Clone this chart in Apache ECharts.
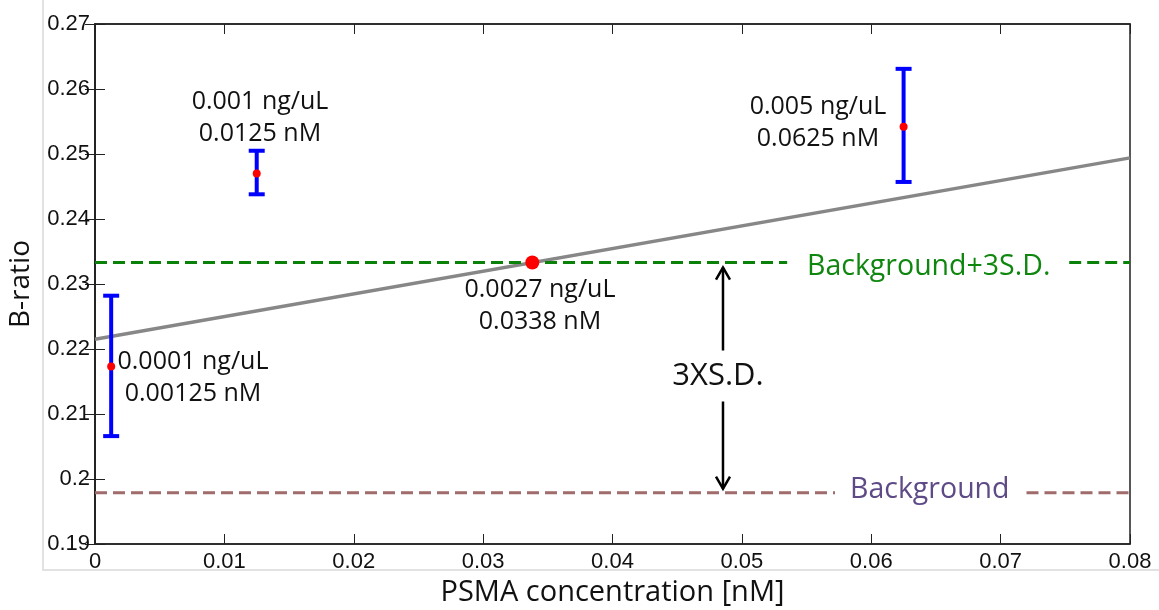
<!DOCTYPE html>
<html>
<head>
<meta charset="utf-8">
<script src="https://cdn.jsdelivr.net/npm/echarts@6/dist/echarts.min.js"></script>
<style>
  html, body { margin: 0; padding: 0; background: #fff; }
  #main { width: 1159px; height: 610px; }
</style>
</head>
<body>
<div id="main"></div>
<script>
// 测量点 (浓度 nM, B-ratio 均值及误差范围)
const conc = [0.00125, 0.0125, 0.0625];
const ratioMean = [0.2173, 0.2470, 0.2542];
const ratioLow = [0.2066, 0.2438, 0.2457];
const ratioHigh = [0.2282, 0.2505, 0.2631];

// 拟合直线
const fitX = [0, 0.08];
const fitY = [0.2215, 0.2494];

// 检测限
const lodX = [0.0338];
const lodY = [0.2333];

// 背景水平
const bgLevel = 0.1979;
const bgSdLevel = 0.2333;
const arrowX = 0.04854;

// 注释文字
const noteLines = [
  ['0.0001 ng/uL', '0.00125 nM'],
  ['0.001 ng/uL', '0.0125 nM'],
  ['0.005 ng/uL', '0.0625 nM'],
  ['0.0027 ng/uL', '0.0338 nM']
];

const chart = echarts.init(document.getElementById('main'));

const tickFont = { fontFamily: 'Liberation Sans, Arial, sans-serif', fontSize: 22, color: '#111' };
const noteFont = 'Open Sans, sans-serif';

function hline(y, x0, x1, color) {
  return {
    type: 'line',
    data: [[x0, y], [x1, y]],
    showSymbol: false,
    silent: true,
    lineStyle: { color: color, width: 3, type: [12, 6] },
    z: 2
  };
}

// 文字注释（像素位置）
const notePos = [[193, 362], [260, 102], [818, 107], [540, 290]];
const graphics = [
  {
    type: 'rect', silent: true, z: -1,
    shape: { x: 43, y: -5, width: 1200, height: 575 },
    style: { fill: 'none', stroke: '#d9d9d9', lineWidth: 1.5 }
  }
];
noteLines.forEach((lines, i) => {
  lines.forEach((t, j) => {
    graphics.push({
      type: 'text', z: 10,
      x: notePos[i][0], y: notePos[i][1] + j * 32,
      style: {
        text: t, fill: '#111', font: '25px ' + noteFont,
        textAlign: 'center', textVerticalAlign: 'middle'
      }
    });
  });
});
graphics.push({
  type: 'text', z: 20, x: 718, y: 376,
  style: {
    text: '3XS.D.', fill: '#111', font: '31px ' + noteFont,
    textAlign: 'center', textVerticalAlign: 'middle',
    backgroundColor: '#fff', padding: [10, 4, 10, 4]
  }
});
graphics.push({
  type: 'text', z: 10, x: 807, y: 267,
  style: {
    text: 'Background+3S.D.', fill: '#0f870f', font: '28.5px ' + noteFont,
    textAlign: 'left', textVerticalAlign: 'middle'
  }
});
graphics.push({
  type: 'text', z: 10, x: 850, y: 490,
  style: {
    text: 'Background', fill: '#5e4a86', font: '28.5px ' + noteFont,
    textAlign: 'left', textVerticalAlign: 'middle'
  }
});

const option = {
  backgroundColor: '#fff',
  animation: false,
  grid: {
    left: 95, right: 29, top: 24, bottom: 66,
    outerBoundsMode: 'none', containLabel: false,
    show: true, borderColor: '#222', borderWidth: 1.5
  },
  xAxis: [
    {
      type: 'value', min: 0, max: 0.08, interval: 0.01,
      name: 'PSMA concentration [nM]', nameLocation: 'middle', nameGap: 30,
      nameTextStyle: { fontFamily: noteFont, fontSize: 29, color: '#111' },
      axisLine: { show: true, lineStyle: { color: '#222', width: 1.5 } },
      axisTick: { show: true, inside: true, length: 10, lineStyle: { color: '#222' } },
      axisLabel: Object.assign({ margin: 7 }, tickFont),
      splitLine: { show: false }
    },
    {
      type: 'value', min: 0, max: 0.08, interval: 0.01, position: 'top',
      axisLine: { show: true, lineStyle: { color: '#222', width: 1.5 } },
      axisTick: { show: true, inside: true, length: 10, lineStyle: { color: '#222' } },
      axisLabel: { show: false },
      splitLine: { show: false }
    }
  ],
  yAxis: [
    {
      type: 'value', min: 0.19, max: 0.27, interval: 0.01,
      name: 'B-ratio', nameLocation: 'middle', nameGap: 60,
      nameTextStyle: { fontFamily: noteFont, fontSize: 28, color: '#111' },
      axisLine: { show: true, lineStyle: { color: '#222', width: 1.5 } },
      axisTick: { show: true, inside: true, length: 10, lineStyle: { color: '#222' } },
      axisLabel: Object.assign({ margin: 5 }, tickFont),
      splitLine: { show: false }
    },
    {
      type: 'value', min: 0.19, max: 0.27, interval: 0.01, position: 'right',
      axisLine: { show: true, lineStyle: { color: '#222', width: 1.5 } },
      axisTick: { show: true, inside: true, length: 10, lineStyle: { color: '#222' } },
      axisLabel: { show: false },
      splitLine: { show: false }
    }
  ],
  graphic: graphics,
  series: [
    {
      type: 'line',
      data: fitX.map((x, i) => [x, fitY[i]]),
      showSymbol: false,
      silent: true,
      lineStyle: { color: '#878787', width: 3.5 },
      z: 1
    },
    hline(bgSdLevel, 0, 0.0535, '#0a820a'),
    hline(bgSdLevel, 0.0753, 0.08, '#0a820a'),
    hline(bgLevel, 0, 0.0572, '#a06b6b'),
    hline(bgLevel, 0.0720, 0.08, '#a06b6b'),
    {
      // 误差棒
      type: 'custom',
      data: conc.map((x, i) => [x, ratioLow[i], ratioHigh[i]]),
      encode: { x: 0, y: [1, 2] },
      z: 3,
      renderItem: function (params, api) {
        const x = api.value(0);
        const lo = api.coord([x, api.value(1)]);
        const hi = api.coord([x, api.value(2)]);
        const w = 8;
        const st = { stroke: '#0000ff', lineWidth: 4 };
        return {
          type: 'group',
          children: [
            { type: 'line', shape: { x1: lo[0], y1: lo[1], x2: hi[0], y2: hi[1] }, style: st },
            { type: 'line', shape: { x1: lo[0] - w, y1: lo[1], x2: lo[0] + w, y2: lo[1] }, style: st },
            { type: 'line', shape: { x1: hi[0] - w, y1: hi[1], x2: hi[0] + w, y2: hi[1] }, style: st }
          ]
        };
      }
    },
    {
      type: 'scatter',
      data: conc.map((x, i) => [x, ratioMean[i]]),
      symbolSize: 8,
      itemStyle: { color: '#ff0000', opacity: 1 },
      z: 5
    },
    {
      type: 'scatter',
      data: lodX.map((x, i) => [x, lodY[i]]),
      symbolSize: 14,
      itemStyle: { color: '#ff0000', opacity: 1 },
      z: 5
    },
    {
      // 双向箭头 3XS.D.
      type: 'custom',
      data: [[arrowX, bgSdLevel, bgLevel]],
      encode: { x: 0, y: [1, 2] },
      z: 6,
      renderItem: function (params, api) {
        const top = api.coord([api.value(0), api.value(1)]);
        const bot = api.coord([api.value(0), api.value(2)]);
        const x = top[0];
        const y1 = top[1] + 5, y2 = bot[1] - 4;
        const st = { stroke: '#000', lineWidth: 2.5, fill: 'none' };
        return {
          type: 'group',
          children: [
            { type: 'line', shape: { x1: x, y1: y1, x2: x, y2: y2 }, style: st },
            { type: 'polyline', shape: { points: [[x - 7, y1 + 12], [x, y1], [x + 7, y1 + 12]] }, style: st },
            { type: 'polyline', shape: { points: [[x - 7, y2 - 12], [x, y2], [x + 7, y2 - 12]] }, style: st }
          ]
        };
      }
    }
  ]
};

chart.setOption(option);
</script>
</body>
</html>
